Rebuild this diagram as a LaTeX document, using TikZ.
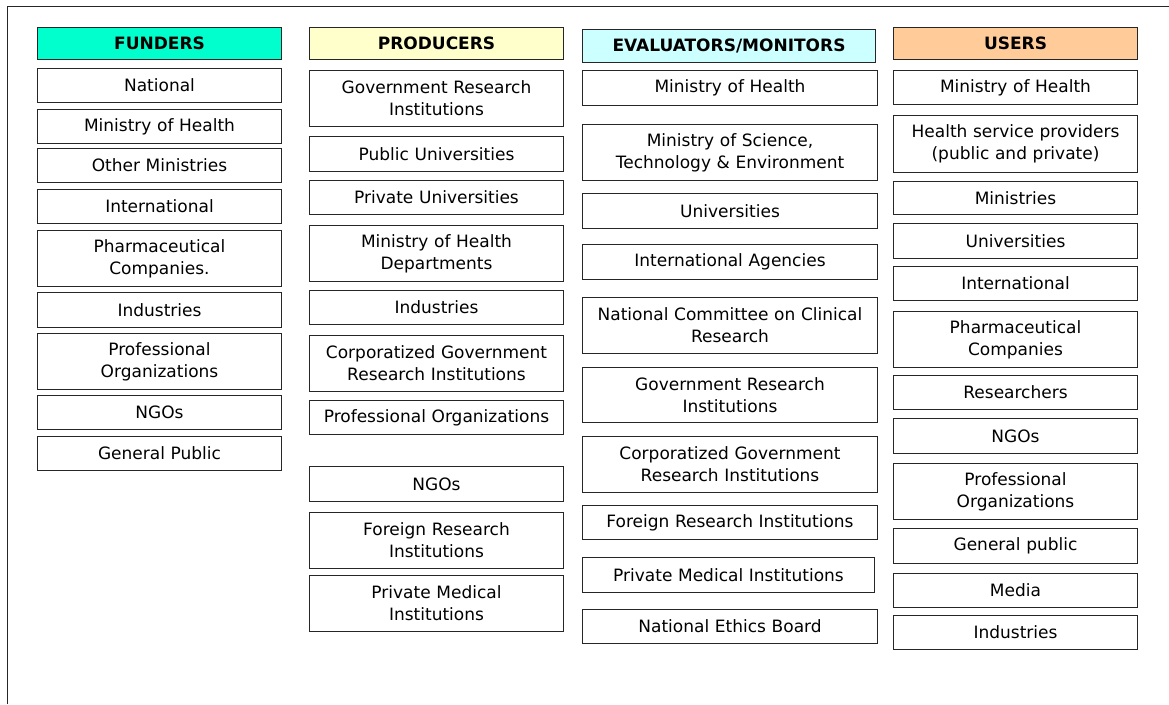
\documentclass[tikz,border=0pt]{standalone}
\usepackage{fontspec}
\setmainfont{DejaVu Sans}
\usepackage{xcolor}
\definecolor{fundcol}{HTML}{00FFCC}
\definecolor{prodcol}{HTML}{FFFFCC}
\definecolor{evalcol}{HTML}{CCFFFF}
\definecolor{usercol}{HTML}{FFCC99}
\tikzset{
  cell/.style={draw=black!85, line width=1pt, fill=white, anchor=north west, align=center,
    inner xsep=4pt, inner ysep=0pt, font=\fontsize{17}{22}\selectfont},
  fcell/.style={cell, text width=236pt},
  pcell/.style={cell, text width=246pt},
  ecell/.style={cell, text width=287pt},
  ucell/.style={cell, text width=236pt},
  head/.style={font=\fontsize{17}{22}\selectfont\bfseries}
}
\begin{document}
\begin{tikzpicture}[x=1pt,y=1pt,yscale=-1]
\useasboundingbox (0,0) rectangle (1169,704);

%Straight Lines [frame]
\draw [color=black!85, line width=1pt] (7,704) -- (7,6) -- (1169,6) ;

% Funders
\node [fcell, head, fill=fundcol, minimum height=32] (fhead) at (37,27) {FUNDERS};
\node [fcell, minimum height=34] (f1) at (37,68) {National};
\node [fcell, minimum height=34] (f2) at (37,109) {Ministry of Health};
\node [fcell, minimum height=34] (f3) at (37,148) {Other Ministries};
\node [fcell, minimum height=34] (f4) at (37,189) {International};
\node [fcell, minimum height=56] (f5) at (37,230) {Pharmaceutical\\Companies.};
\node [fcell, minimum height=35] (f6) at (37,292) {Industries};
\node [fcell, minimum height=56] (f7) at (37,333) {Professional\\Organizations};
\node [fcell, minimum height=34] (f8) at (37,395) {NGOs};
\node [fcell, minimum height=34] (f9) at (37,436) {General Public};

% Producers
\node [pcell, head, fill=prodcol, minimum height=32] (phead) at (309,27) {PRODUCERS};
\node [pcell, minimum height=56] (p1) at (309,70) {Government Research\\Institutions};
\node [pcell, minimum height=35] (p2) at (309,136) {Public Universities};
\node [pcell, minimum height=34] (p3) at (309,180) {Private Universities};
\node [pcell, minimum height=56] (p4) at (309,225) {Ministry of Health\\Departments};
\node [pcell, minimum height=34] (p5) at (309,290) {Industries};
\node [pcell, minimum height=56] (p6) at (309,335) {Corporatized Government\\Research Institutions};
\node [pcell, minimum height=34] (p7) at (309,400) {Professional Organizations};
\node [pcell, minimum height=35] (p8) at (309,466) {NGOs};
\node [pcell, minimum height=56] (p9) at (309,512) {Foreign Research\\Institutions};
\node [pcell, minimum height=56] (p10) at (309,575) {Private Medical\\Institutions};

% Evaluators / monitors
\node [ecell, head, fill=evalcol, text width=285pt, minimum height=33] (ehead) at (582,29) {EVALUATORS/MONITORS};
\node [ecell, minimum height=35] (e1) at (582,70) {Ministry of Health};
\node [ecell, minimum height=56] (e2) at (582,124) {Ministry of Science,\\Technology \& Environment};
\node [ecell, minimum height=35] (e3) at (582,193) {Universities};
\node [ecell, minimum height=35] (e4) at (582,244) {International Agencies};
\node [ecell, minimum height=56] (e5) at (582,297) {National Committee on Clinical\\Research};
\node [ecell, minimum height=55] (e6) at (582,367) {Government Research\\Institutions};
\node [ecell, minimum height=56] (e7) at (582,436) {Corporatized Government\\Research Institutions};
\node [ecell, minimum height=34] (e8) at (582,505) {Foreign Research Institutions};
\node [ecell, text width=284pt, minimum height=35] (e9) at (582,557) {Private Medical Institutions};
\node [ecell, minimum height=34] (e10) at (582,609) {National Ethics Board};

% Users
\node [ucell, head, fill=usercol, minimum height=32] (uhead) at (893,27) {USERS};
\node [ucell, minimum height=34] (u1) at (893,70) {Ministry of Health};
\node [ucell, minimum height=57] (u2) at (893,115) {Health service providers\\(public and private)};
\node [ucell, minimum height=33] (u3) at (893,181) {Ministries};
\node [ucell, minimum height=35] (u4) at (893,223) {Universities};
\node [ucell, minimum height=34] (u5) at (893,266) {International};
\node [ucell, minimum height=56] (u6) at (893,311) {Pharmaceutical\\Companies};
\node [ucell, minimum height=34] (u7) at (893,375) {Researchers};
\node [ucell, minimum height=35] (u8) at (893,418) {NGOs};
\node [ucell, minimum height=56] (u9) at (893,463) {Professional\\Organizations};
\node [ucell, minimum height=35] (u10) at (893,528) {General public};
\node [ucell, minimum height=34] (u11) at (893,573) {Media};
\node [ucell, minimum height=34] (u12) at (893,615) {Industries};

\end{tikzpicture}
\end{document}
